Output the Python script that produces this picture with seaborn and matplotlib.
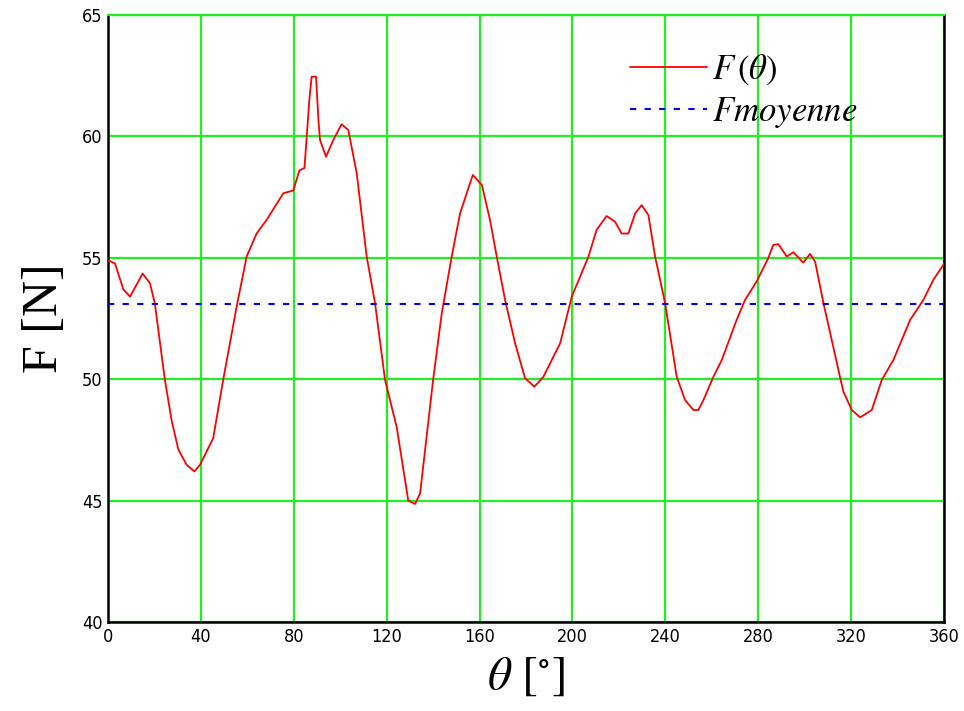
import matplotlib
matplotlib.use("Agg")
import matplotlib.pyplot as plt
import seaborn as sns
import pandas as pd

theta = [0, 3, 6.6, 9.5, 14.9, 18.1, 20.2, 24.5, 27.4, 30.3, 33.9, 37.2, 39.6, 45.3,
         49.6, 55.4, 59.7, 64, 68.3, 75.5, 79.8, 82.4, 84.6, 86.7, 87.7, 89.6, 90.6,
         91.3, 93.9, 97, 100.6, 103.5, 107.1, 111.4, 115, 119.3, 124.3, 129.3, 132.2,
         134.4, 140, 143.7, 148, 151.6, 157.1, 161, 164.5, 167.4, 171, 175.3, 179.6,
         183.6, 187.5, 194.7, 199.7, 206.9, 210.4, 214.7, 218.3, 221.2, 224.1, 227,
         229.8, 232.7, 235.6, 239.9, 244.9, 248.5, 252.1, 254.2, 256.4, 260.7, 264.3,
         270.7, 274.3, 279.3, 284.3, 286.5, 288.7, 292.3, 295.1, 299.4, 302.3, 304.5,
         308.1, 315.2, 316.7, 320.3, 323.9, 328.9, 333.2, 338.2, 345.4, 351.1, 355.4,
         360]
force = [54.9, 54.77, 53.7, 53.4, 54.35, 53.95, 53.1, 49.97, 48.3, 47.1, 46.47, 46.2,
         46.47, 47.57, 49.97, 52.99, 55.05, 56.0, 56.56, 57.66, 57.77, 58.6, 58.7, 61.5,
         62.46, 62.46, 60.68, 59.85, 59.16, 59.85, 60.5, 60.26, 58.48, 55.05, 53.13,
         49.97, 48.04, 45.0, 44.86, 45.3, 49.97, 52.7, 55.05, 56.83, 58.41, 58.0, 56.56,
         55.05, 53.26, 51.48, 50.04, 49.69, 50.1, 51.48, 53.4, 55.05, 56.15, 56.72,
         56.49, 56.0, 56.0, 56.83, 57.17, 56.76, 55.05, 53.13, 50.1, 49.14, 48.73, 48.73,
         49.14, 50.1, 50.79, 52.44, 53.26, 54.02, 54.98, 55.53, 55.56, 55.05, 55.23,
         54.8, 55.16, 54.84, 53.13, 50.1, 49.48, 48.73, 48.43, 48.73, 49.97, 50.79,
         52.44, 53.26, 54.09, 54.75]
f_moyenne = 53.1
x_ticks = [0, 40, 80, 120, 160, 200, 240, 280, 320, 360]
y_ticks = [40, 45, 50, 55, 60, 65]

sns.set_style("white")
plt.rcParams["font.family"] = ["Liberation Serif", "DejaVu Serif"]
plt.rcParams["mathtext.fontset"] = "stix"
for k in ["text.color", "axes.labelcolor", "xtick.color", "ytick.color"]:
    plt.rcParams[k] = "black"

df = pd.DataFrame({"theta": theta, "F": force})
dfm = pd.DataFrame({"theta": [0, 360], "F": [f_moyenne, f_moyenne]})

fig = plt.figure(figsize=(9.64, 7.11), dpi=100)
ax = fig.add_axes([108 / 964, 89 / 711, 836 / 964, 607 / 711])

sns.lineplot(data=df, x="theta", y="F", ax=ax, color="#ff0000", linewidth=1.3,
             label=r"$F\,(\theta)$", zorder=3)
sns.lineplot(data=dfm, x="theta", y="F", ax=ax, color="#0000ff", linewidth=1.5,
             linestyle=(0, (3, 4)), label=r"$Fmoyenne$", zorder=3)

ax.set_xlim(0, 360)
ax.set_ylim(40, 65)
ax.set_xticks(x_ticks)
ax.set_yticks(y_ticks)
ax.grid(True, color="#22ee22", linewidth=1.6)
ax.set_axisbelow(True)
ax.tick_params(length=0, pad=4, labelsize=13, colors="black")
for lab in ax.get_xticklabels() + ax.get_yticklabels():
    lab.set_family("DejaVu Sans")
    lab.set_fontstretch("condensed")
for side in ["left", "bottom", "right"]:
    ax.spines[side].set_color("black")
    ax.spines[side].set_linewidth(1.8)
ax.spines["top"].set_color("#22ee22")
ax.spines["top"].set_linewidth(1.6)

ax.set_xlabel(r"$\theta\ \left[^{\circ}\right]$", fontsize=34, labelpad=8, color="black")
ax.set_ylabel("F [N]", fontsize=36, labelpad=10, color="black")

leg = ax.legend(loc="upper left", bbox_to_anchor=(0.608, 0.96), frameon=False,
                fontsize=25, handlelength=2.2, handletextpad=0.15, labelspacing=0.22,
                borderaxespad=0)
for t in leg.get_texts():
    t.set_color("black")

fig.savefig("out.png", dpi=100)
